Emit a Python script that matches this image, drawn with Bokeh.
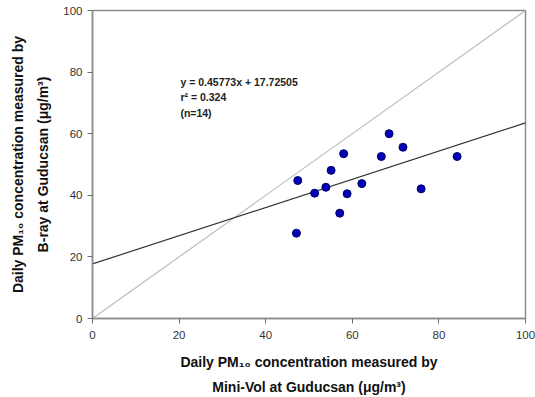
from bokeh.plotting import figure
from bokeh.models import Range1d, Label, FixedTicker
from bokeh.embed import file_html
from bokeh.resources import INLINE

# Data
minivol = [47.4, 47.1, 51.3, 53.9, 55.1, 58.0, 57.1, 58.8, 62.2, 66.7, 68.5, 71.7, 75.9, 84.2]
beta_ray = [44.8, 27.7, 40.7, 42.6, 48.1, 53.5, 34.2, 40.5, 43.8, 52.6, 60.0, 55.6, 42.1, 52.6]
slope = 0.45773
intercept = 17.72505
axis_min, axis_max = 0, 100
ticks = [0, 20, 40, 60, 80, 100]
eq_lines = ["y = 0.45773x + 17.72505", "r² = 0.324", "(n=14)"]

FONT = "Liberation Sans"

p = figure(frame_width=433, frame_height=308, width=535, height=397,
           min_border_left=92, min_border_right=10, min_border_top=10, min_border_bottom=79,
           x_range=Range1d(axis_min, axis_max), y_range=Range1d(axis_min, axis_max),
           output_backend="svg", toolbar_location=None)

p.background_fill_color = "white"
p.border_fill_color = "white"
p.outline_line_color = "#8c8c8c"
p.outline_line_width = 1.5
p.xgrid.visible = False
p.ygrid.visible = False

for ax in (p.xaxis, p.yaxis):
    ax.ticker = FixedTicker(ticks=ticks)
    ax.minor_tick_line_color = None
    ax.major_tick_in = 0
    ax.major_tick_out = 5
    ax.axis_line_color = "#8c8c8c"
    ax.axis_line_width = 1.5
    ax.major_tick_line_color = "#6e6e6e"
    ax.major_label_text_font = FONT
    ax.major_label_text_font_size = "11.5px"
    ax.major_label_text_color = "#333333"
    ax.axis_label_text_font = FONT
    ax.axis_label_text_font_size = "14px"
    ax.axis_label_text_font_style = "bold"
    ax.axis_label_text_color = "#111111"

p.xaxis.axis_label = "Daily PM₁₀ concentration measured by\nMini-Vol at Guducsan (μg/m³)"
p.yaxis.axis_label = "Daily PM₁₀ concentration measured by\nB-ray at Guducsan (μg/m³)"
p.xaxis.axis_label_text_line_height = 1.6
p.yaxis.axis_label_text_line_height = 1.6
p.xaxis.axis_label_standoff = 12
p.yaxis.axis_label_standoff = 9
p.xaxis.major_label_standoff = 7
p.yaxis.major_label_standoff = 5

# 1:1 line
p.line([axis_min, axis_max], [axis_min, axis_max], line_color="#bdbdbd", line_width=1.2)
# regression line
p.line([axis_min, axis_max], [slope * axis_min + intercept, slope * axis_max + intercept],
       line_color="#333333", line_width=1.2)

p.scatter(minivol, beta_ray, size=8, fill_color="#0000b4", line_color="#00006a", line_width=1)

ys = [76.9, 71.8, 66.6]
for t, yy in zip(eq_lines, ys):
    p.add_layout(Label(x=20.3, y=yy, text=t, text_font=FONT, text_font_size="10.5px",
                       text_font_style="bold", text_color="#222222",
                       text_baseline="middle"))

open("out.html", "w").write(file_html(p, INLINE))
